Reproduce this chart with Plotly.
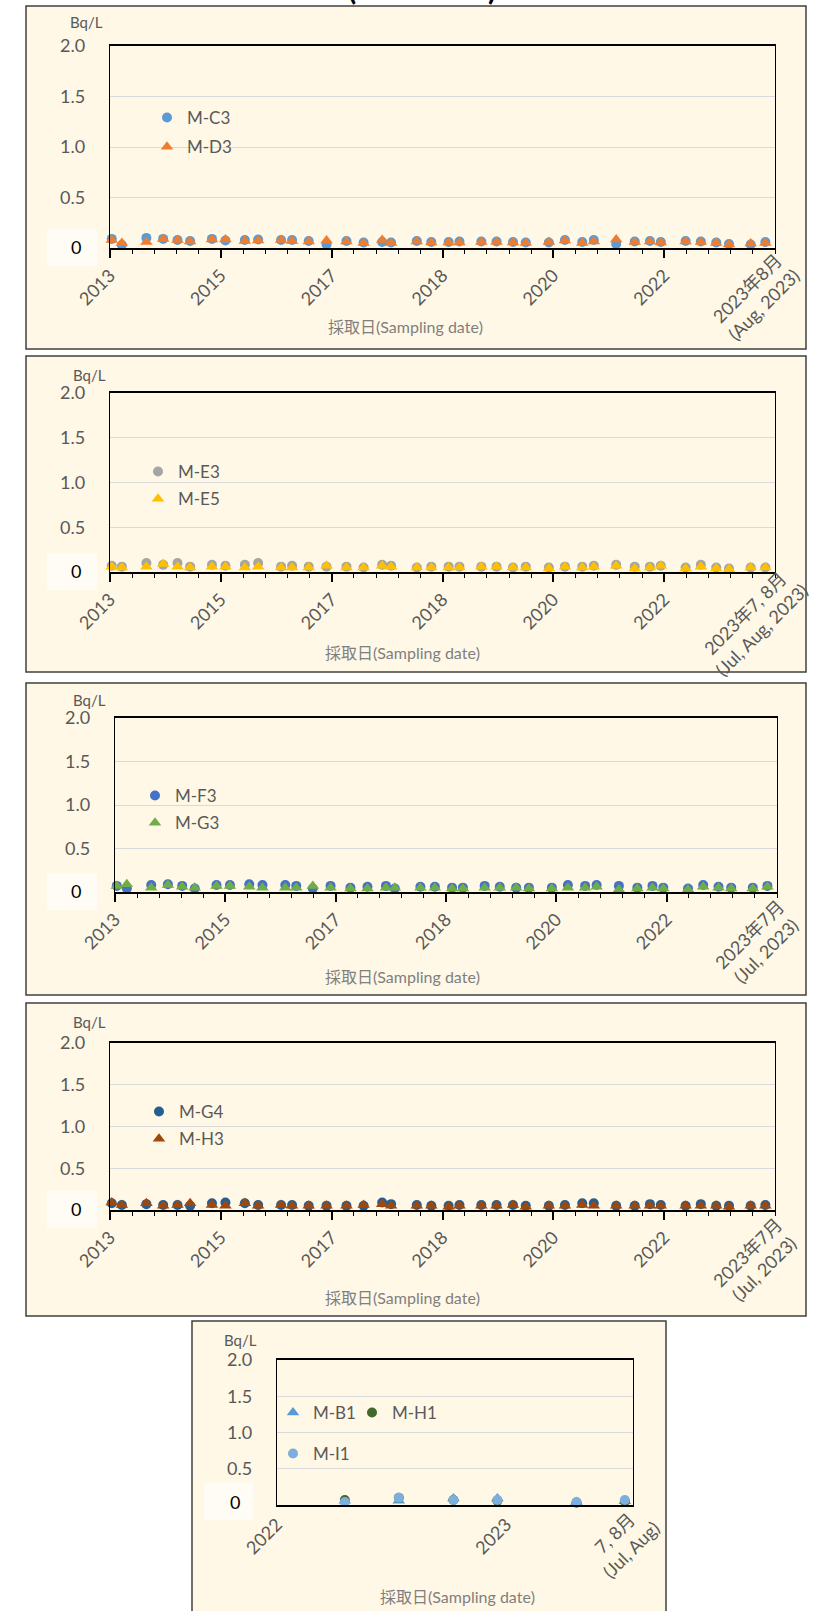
import plotly.graph_objects as go
import pandas as pd

# ---------------- data ----------------
sampling_dates = ['2013-04-11', '2013-06-08', '2013-10-26', '2014-01-30', '2014-04-22',
                  '2014-07-03', '2014-11-05', '2015-01-21', '2015-05-12', '2015-07-27',
                  '2015-12-05', '2016-02-06', '2016-05-11', '2016-08-21', '2016-12-13',
                  '2017-03-21', '2017-07-05', '2017-08-25', '2018-01-19', '2018-04-12',
                  '2018-07-20', '2018-09-20', '2019-01-23', '2019-04-20', '2019-07-23',
                  '2019-10-04', '2020-02-13', '2020-05-15', '2020-08-22', '2020-10-27',
                  '2021-03-04', '2021-06-18', '2021-09-13', '2021-11-14', '2022-04-05',
                  '2022-07-01', '2022-09-27', '2022-12-09', '2023-04-12', '2023-07-05']

m_c3 = [0.09, 0.03, 0.10, 0.09, 0.08, 0.07, 0.09, 0.075, 0.08, 0.085,
        0.08, 0.08, 0.07, 0.035, 0.07, 0.055, 0.06, 0.055, 0.07, 0.06,
        0.06, 0.065, 0.065, 0.065, 0.06, 0.055, 0.055, 0.08, 0.06, 0.08,
        0.04, 0.065, 0.07, 0.06, 0.07, 0.065, 0.055, 0.04, 0.035, 0.06]
m_d3 = [0.08, 0.05, 0.06, 0.09, 0.08, 0.065, 0.085, 0.085, 0.07, 0.075,
        0.08, 0.07, 0.065, 0.075, 0.065, 0.05, 0.08, 0.05, 0.065, 0.055,
        0.055, 0.055, 0.06, 0.06, 0.055, 0.05, 0.06, 0.075, 0.05, 0.065,
        0.085, 0.06, 0.065, 0.055, 0.065, 0.06, 0.05, 0.035, 0.045, 0.05]
m_e3 = [0.07, 0.06, 0.10, 0.08, 0.10, 0.06, 0.08, 0.07, 0.08, 0.10,
        0.06, 0.07, 0.06, 0.06, 0.06, 0.05, 0.08, 0.07, 0.05, 0.06,
        0.06, 0.06, 0.06, 0.06, 0.05, 0.06, 0.05, 0.06, 0.06, 0.07,
        0.08, 0.06, 0.06, 0.07, 0.05, 0.08, 0.05, 0.04, 0.05, 0.05]
m_e5 = [0.06, 0.05, 0.06, 0.09, 0.06, 0.05, 0.06, 0.06, 0.05, 0.06,
        0.05, 0.05, 0.05, 0.07, 0.05, 0.05, 0.07, 0.06, 0.05, 0.05,
        0.05, 0.05, 0.06, 0.06, 0.05, 0.05, 0.04, 0.06, 0.05, 0.06,
        0.07, 0.04, 0.05, 0.07, 0.04, 0.06, 0.04, 0.03, 0.05, 0.05]
m_f3 = [0.07, 0.04, 0.08, 0.09, 0.07, 0.04, 0.08, 0.08, 0.09, 0.08,
        0.08, 0.07, 0.04, 0.07, 0.05, 0.06, 0.07, 0.04, 0.06, 0.06,
        0.05, 0.05, 0.07, 0.06, 0.05, 0.05, 0.05, 0.08, 0.07, 0.08,
        0.07, 0.05, 0.07, 0.05, 0.04, 0.08, 0.06, 0.05, 0.05, 0.07]
m_g3 = [0.07, 0.09, 0.05, 0.08, 0.06, 0.05, 0.07, 0.07, 0.06, 0.05,
        0.05, 0.05, 0.07, 0.05, 0.04, 0.04, 0.05, 0.05, 0.05, 0.05,
        0.04, 0.04, 0.05, 0.05, 0.05, 0.04, 0.04, 0.05, 0.05, 0.06,
        0.03, 0.04, 0.05, 0.04, 0.03, 0.06, 0.05, 0.04, 0.04, 0.06]
m_g4 = [0.08, 0.06, 0.07, 0.06, 0.06, 0.05, 0.08, 0.09, 0.08, 0.06,
        0.06, 0.06, 0.05, 0.05, 0.05, 0.05, 0.09, 0.07, 0.06, 0.05,
        0.05, 0.06, 0.06, 0.06, 0.06, 0.05, 0.05, 0.06, 0.08, 0.08,
        0.05, 0.05, 0.07, 0.06, 0.05, 0.07, 0.05, 0.05, 0.05, 0.06]
m_h3 = [0.09, 0.06, 0.08, 0.05, 0.06, 0.08, 0.06, 0.05, 0.08, 0.05,
        0.06, 0.05, 0.05, 0.05, 0.05, 0.06, 0.07, 0.05, 0.05, 0.05,
        0.04, 0.05, 0.05, 0.05, 0.06, 0.04, 0.05, 0.05, 0.06, 0.05,
        0.05, 0.05, 0.05, 0.05, 0.05, 0.05, 0.05, 0.04, 0.05, 0.05]

recent_dates = ['2022-04-19', '2022-07-14', '2022-10-09', '2022-12-18', '2023-04-23', '2023-07-09']
m_b1 = [0.06, 0.06, 0.09, 0.09, 0.04, 0.05]
m_h1 = [0.07, 0.10, 0.07, 0.06, 0.03, 0.05]
m_i1 = [0.04, 0.10, 0.07, 0.07, 0.04, 0.07]

long_range = ['2013-04-01', '2023-08-29']
long_ticktext_1 = ['2013', '2015', '2017', '2018', '2020', '2022', '2023年8月<br>(Aug, 2023)']
long_ticktext_2 = ['2013', '2015', '2017', '2018', '2020', '2022', '2023年7, 8月<br>(Jul, Aug, 2023)']
long_ticktext_3 = ['2013', '2015', '2017', '2018', '2020', '2022', '2023年7月<br>(Jul, 2023)']
long_ticktext_4 = ['2013', '2015', '2017', '2018', '2020', '2022', '2023年7月<br>(Jul, 2023)']
short_range = ['2022-01-01', '2023-07-22']
short_tickvals = ['2022-01-01', '2023-01-01', '2023-07-22']
short_ticktext = ['2022', '2023', '7, 8月<br>(Jul, Aug)']

y_tickvals = [0, 0.5, 1.0, 1.5, 2.0]
y_ticktext = ['', '0.5', '1.0', '1.5', '2.0']

for arr in (m_c3, m_d3, m_e3, m_e5, m_f3, m_g3, m_g4, m_h3):
    assert len(arr) == len(sampling_dates)

# ---------------- styling ----------------
W, H = 817, 1611
FONT = "Lato, Noto Sans CJK JP, sans-serif"
CREAM = '#FFF8E6'
TICK_GRAY = '#595959'
TITLE_GRAY = '#7F7F7F'


def px(x):
    return x / W


def py(y):
    return 1 - y / H


panels = [
    dict(outer=(26, 6, 806, 349), plot=(110, 46, 775, 248), bq=(86, 22), title=(405, 327),
         zero_box=(47, 229, 97, 266), zero=(76, 247), last=(-20, 49)),
    dict(outer=(26, 356, 806, 672), plot=(110, 393, 775, 572), bq=(89, 375), title=(402, 652),
         zero_box=(47, 553, 97, 590), zero=(76, 571), last=(-22, 50)),
    dict(outer=(26, 683, 806, 995), plot=(115, 718, 777, 892), bq=(89, 700), title=(402, 976),
         zero_box=(47, 873, 97, 910), zero=(76, 891), last=(-20, 50)),
    dict(outer=(26, 1003, 806, 1316), plot=(110, 1043, 775, 1210), bq=(89, 1022), title=(402, 1297),
         zero_box=(47, 1191, 97, 1228), zero=(76, 1209), last=(-20, 50)),
    dict(outer=(192, 1321, 666, 1640), plot=(277, 1360, 633, 1505), bq=(240, 1340), title=(457, 1596),
         zero_box=(204, 1483, 253, 1520), zero=(235, 1502), last=(-11, 36)),
]

fig = go.Figure()

series = [
    (1, 'M-C3', sampling_dates, m_c3, 'circle', '#5B9BD5', 10, 'legend'),
    (1, 'M-D3', sampling_dates, m_d3, 'triangle-up', '#ED7D31', 11, 'legend'),
    (2, 'M-E3', sampling_dates, m_e3, 'circle', '#A5A5A5', 10, 'legend2'),
    (2, 'M-E5', sampling_dates, m_e5, 'triangle-up', '#FFC000', 11, 'legend2'),
    (3, 'M-F3', sampling_dates, m_f3, 'circle', '#4472C4', 10, 'legend3'),
    (3, 'M-G3', sampling_dates, m_g3, 'triangle-up', '#70AD47', 11, 'legend3'),
    (4, 'M-G4', sampling_dates, m_g4, 'circle', '#255E91', 10, 'legend4'),
    (4, 'M-H3', sampling_dates, m_h3, 'triangle-up', '#9E480E', 11, 'legend4'),
    (5, 'M-B1', recent_dates, m_b1, 'triangle-up', '#5B9BD5', 11, 'legend5'),
    (5, 'M-H1', recent_dates, m_h1, 'circle', '#43682B', 10, 'legend6'),
    (5, 'M-I1', recent_dates, m_i1, 'circle', '#7CAFDD', 10, 'legend7'),
]

for p, name, xs, ys, sym, col, size, leg in series:
    suffix = '' if p == 1 else str(p)
    fig.add_trace(go.Scatter(
        x=xs, y=ys, mode='markers', name=name,
        marker=dict(symbol=sym, color=col, size=size, line=dict(width=0)),
        xaxis='x' + suffix, yaxis='y' + suffix,
        legend=leg, legendgroup=name, cliponaxis=False, showlegend=True,
    ))

long_major = pd.date_range(long_range[0], long_range[1], periods=7)
long_minor = pd.date_range(long_range[0], long_range[1], periods=31)
long_texts = [long_ticktext_1, long_ticktext_2, long_ticktext_3, long_ticktext_4]

layout = dict(
    width=W, height=H,
    margin=dict(l=0, r=0, t=0, b=0, pad=0, autoexpand=False),
    paper_bgcolor='white', plot_bgcolor=CREAM,
    font=dict(family=FONT, size=17, color=TICK_GRAY),
    showlegend=True,
)

shapes = []
annotations = []

for i, pnl in enumerate(panels, start=1):
    suffix = '' if i == 1 else str(i)
    l, t, r, b = pnl['plot']
    xa = dict(
        domain=[px(l), px(r)], anchor='y' + suffix, automargin=False,
        showline=True, linecolor='black', linewidth=2, mirror=True,
        showgrid=False, zeroline=False,
        tickangle=-45, tickfont=dict(family=FONT, size=18, color=TICK_GRAY),
    )
    if i <= 4:
        texts = long_texts[i - 1]
        xa.update(type='date', range=[long_major[0], long_major[-1]],
                  tickmode='array', tickvals=list(long_major), ticktext=texts[:-1] + [''],
                  ticks='outside', ticklen=8, tickwidth=1.5, tickcolor='black',
                  minor=dict(tickmode='array', tickvals=list(long_minor), ticks='outside',
                             ticklen=4, tickwidth=1, tickcolor='black'))
    else:
        texts = short_ticktext
        xa.update(type='date', range=short_range, tickmode='array',
                  tickvals=short_tickvals, ticktext=texts[:-1] + [''], ticks='')
    ya = dict(
        domain=[py(b), py(t)], anchor='x' + suffix, range=[0, 2.0], automargin=False,
        tickmode='array', tickvals=y_tickvals, ticktext=y_ticktext,
        showline=True, linecolor='black', linewidth=1.3, mirror=True,
        showgrid=True, gridcolor='#D9D9D9', gridwidth=1, zeroline=False, ticks='',
        tickfont=dict(family=FONT, size=18, color=TICK_GRAY), ticklabelstandoff=20,
    )
    layout['xaxis' + suffix] = xa
    layout['yaxis' + suffix] = ya

    # last (two-line) tick label, centred on its block like the original
    dx, dy = pnl['last']
    annotations.append(dict(xref='paper', yref='paper', x=px(r + dx), y=py(b + dy),
                            text=texts[-1], showarrow=False, textangle=-45, align='center',
                            xanchor='center', yanchor='middle',
                            font=dict(family=FONT, size=18, color=TICK_GRAY)))

    ol, ot, orr, ob = pnl['outer']
    shapes.append(dict(type='rect', xref='paper', yref='paper', layer='below',
                       x0=px(ol), x1=px(orr), y0=py(ob), y1=py(ot),
                       fillcolor=CREAM, line=dict(color='#404040', width=1.5)))
    zl, zt, zr, zb = pnl['zero_box']
    shapes.append(dict(type='rect', xref='paper', yref='paper', layer='below',
                       x0=px(zl), x1=px(zr), y0=py(zb), y1=py(zt),
                       fillcolor='#FFFCF5', line=dict(width=0)))
    annotations.append(dict(xref='paper', yref='paper', x=px(pnl['zero'][0]), y=py(pnl['zero'][1]),
                            text='0', showarrow=False, xanchor='center', yanchor='middle',
                            font=dict(family=FONT, size=18, color='black')))
    annotations.append(dict(xref='paper', yref='paper', x=px(pnl['bq'][0]), y=py(pnl['bq'][1]),
                            text='Bq/L', showarrow=False, xanchor='center', yanchor='middle',
                            font=dict(family=FONT, size=15, color=TICK_GRAY)))
    annotations.append(dict(xref='paper', yref='paper', x=px(pnl['title'][0]), y=py(pnl['title'][1]),
                            text='採取日(Sampling date)', showarrow=False, xanchor='center',
                            yanchor='middle', font=dict(family=FONT, size=16, color=TITLE_GRAY)))

# cropped heading at very top
for xpos, ch in ((352, '('), (492, ')')):
    annotations.append(dict(xref='paper', yref='paper', x=px(xpos), y=1, text='<b>' + ch + '</b>',
                            showarrow=False, xanchor='center', yanchor='middle', yshift=12,
                            font=dict(family=FONT, size=30, color='black')))

legend_base = dict(xanchor='left', yanchor='top', bgcolor='rgba(0,0,0,0)', borderwidth=0,
                   font=dict(family=FONT, size=17, color=TICK_GRAY), orientation='v',
                   itemclick=False, itemdoubleclick=False)
legend_pos = {
    'legend': (147, 100, 4),
    'legend2': (138, 454, 2),
    'legend3': (135, 778, 2),
    'legend4': (139, 1094, 2),
    'legend5': (273, 1395, 0),
    'legend6': (352, 1395, 0),
    'legend7': (273, 1436, 0),
}
for key, (lx, ly, gap) in legend_pos.items():
    d = dict(legend_base)
    d.update(x=px(lx), y=py(ly), tracegroupgap=gap)
    layout[key] = d

layout['shapes'] = shapes
layout['annotations'] = annotations
fig.update_layout(**layout)

fig.write_html('out.html', config={'displayModeBar': False},
               post_script="document.body.style.margin='0';document.body.style.padding='0';")
